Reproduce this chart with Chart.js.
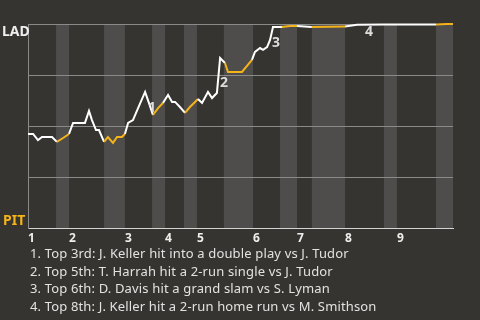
<!DOCTYPE html>
<html>
<head>
<meta charset="utf-8">
<script src="https://cdn.jsdelivr.net/npm/chart.js"></script>
<style>
  html, body { margin: 0; padding: 0; background: #353430; }
  #wrap { width: 480px; height: 320px; position: relative; overflow: hidden; background: #353430; }
  #grafico { display: block; }
  #note {
    position: absolute; left: 30px; top: 245px; margin: 0; padding: 0;
    list-style: none; font-family: 'Noto Sans', sans-serif; font-size: 13px;
    letter-spacing: 0.15px; line-height: 17.7px; color: #e2e2e2; white-space: nowrap;
  }
</style>
</head>
<body>
<div id="wrap">
  <canvas id="grafico" width="480" height="245"></canvas>
  <ul id="note"></ul>
</div>
<script>
// Dati: avanzamento partita (0-100) e probabilita' di vittoria LAD
const progresso = [0, 1.2, 2.35, 3.3, 5.65, 6.8, 8.25, 9.65, 10.6, 13.4, 14.35, 15.05, 16.0, 16.7,
  17.9, 18.8, 20.0, 20.95, 22.1, 22.8, 23.55, 24.7, 25.9, 27.55, 28.45, 29.4, 30.6, 31.75,
  32.95, 33.9, 34.6, 35.75, 36.95, 38.1, 39.3, 40.0, 40.95, 42.35, 43.3, 44.45, 45.2, 46.35,
  47.05, 50.35, 52.7, 53.4, 54.6, 55.3, 56.25, 56.95, 57.65, 59.75, 61.65, 63.3, 66.8, 74.6,
  77.4, 83.75, 96.0, 98.6, 100];
const probLAD = [0.461, 0.461, 0.431, 0.446, 0.446, 0.422, 0.441, 0.461, 0.515, 0.515, 0.574, 0.529, 0.480, 0.480,
  0.422, 0.446, 0.417, 0.446, 0.446, 0.461, 0.515, 0.529, 0.588, 0.667, 0.613, 0.554, 0.588, 0.613,
  0.652, 0.618, 0.618, 0.593, 0.564, 0.593, 0.618, 0.632, 0.613, 0.667, 0.637, 0.662, 0.833, 0.809,
  0.765, 0.765, 0.824, 0.863, 0.882, 0.873, 0.887, 0.922, 0.985, 0.985, 0.990, 0.990, 0.985, 0.988,
  0.996, 0.997, 0.997, 1.0, 1.0];

// Inizio di ogni mezzo inning (alto, basso, alto, ...) + fine partita
const mezziInning = [0, 6.6, 9.65, 17.9, 22.8, 29.2, 32.25, 36.7, 39.75, 46.1, 52.95, 59.3,
  63.3, 66.8, 74.6, 83.75, 86.8, 96.0, 100];
const etichetteInning = ['1', '2', '3', '4', '5', '6', '7', '8', '9'];

// Eventi chiave
const noteNumeri = ['1', '2', '3', '4'];
const noteX = [29.2, 46.1, 58.35, 80.25];
const noteY = [0.59, 0.711, 0.905, 0.961];
const noteTesti = [
  '1. Top 3rd: J. Keller hit into a double play vs J. Tudor',
  '2. Top 5th: T. Harrah hit a 2-run single vs J. Tudor',
  '3. Top 6th: D. Davis hit a grand slam vs S. Lyman',
  '4. Top 8th: J. Keller hit a 2-run home run vs M. Smithson'
];

const squadre = ['LAD', 'PIT'];

const BIANCO = '#ffffff';
const GIALLO = '#f5b31b';

// Lista note sotto il grafico
const lista = document.getElementById('note');
noteTesti.forEach(t => {
  const li = document.createElement('li');
  li.innerText = t;
  lista.appendChild(li);
});

function inizioInning() {
  return mezziInning.filter((v, i) => i % 2 === 0 && i < mezziInning.length - 1);
}

// Colore del segmento: bianco in alto inning, giallo in basso inning
function coloreSegmento(ctx) {
  const mid = (ctx.p0.parsed.x + ctx.p1.parsed.x) / 2;
  let k = 0;
  while (k < mezziInning.length - 2 && mid >= mezziInning[k + 1]) k++;
  return k % 2 === 0 ? BIANCO : GIALLO;
}

const sfondoPlugin = {
  id: 'sfondo',
  beforeDraw(chart) {
    const { ctx, chartArea, scales: { x } } = chart;
    ctx.save();
    ctx.fillStyle = '#353430';
    ctx.fillRect(0, 0, chart.width, chart.height);
    ctx.fillStyle = '#4e4d4b';
    for (let i = 1; i < mezziInning.length - 1; i += 2) {
      const x0 = x.getPixelForValue(mezziInning[i]);
      const x1 = x.getPixelForValue(mezziInning[i + 1]);
      ctx.fillRect(x0, chartArea.top, x1 - x0, chartArea.bottom - chartArea.top);
    }
    ctx.restore();
  },
  afterDatasetsDraw(chart) {
    const { ctx, scales: { x, y } } = chart;
    ctx.save();
    ctx.font = 'bold 14px "Noto Sans"';
    ctx.fillStyle = '#dcdcdc';
    ctx.textAlign = 'center';
    ctx.textBaseline = 'middle';
    noteNumeri.forEach((n, i) => {
      ctx.fillText(n, x.getPixelForValue(noteX[i]), y.getPixelForValue(noteY[i]));
    });
    ctx.restore();
  },
  afterDraw(chart) {
    const { ctx, chartArea } = chart;
    ctx.save();
    ctx.font = 'bold 14px "Noto Sans"';
    ctx.textAlign = 'left';
    ctx.fillStyle = '#eeeeee';
    ctx.textBaseline = 'top';
    ctx.fillText(squadre[0], 2, chartArea.top + 1);
    ctx.fillStyle = GIALLO;
    ctx.textBaseline = 'bottom';
    ctx.fillText(squadre[1], 3, chartArea.bottom);
    ctx.restore();
  }
};

const ctx = document.getElementById('grafico').getContext('2d');
new Chart(ctx, {
  type: 'line',
  data: {
    datasets: [{
      data: progresso.map((v, i) => ({ x: v, y: probLAD[i] })),
      borderWidth: 2,
      borderColor: BIANCO,
      pointRadius: 0,
      tension: 0,
      clip: false,
      segment: { borderColor: coloreSegmento }
    }]
  },
  options: {
    responsive: false,
    animation: false,
    layout: { padding: { left: 28, right: 27, top: 24, bottom: 0 } },
    plugins: { legend: { display: false }, tooltip: { enabled: false } },
    scales: {
      x: {
        type: 'linear',
        min: 0,
        max: 100,
        grid: { display: false, drawTicks: false },
        border: { color: '#d4d4d4', width: 1 },
        afterBuildTicks: scale => { scale.ticks = inizioInning().map(v => ({ value: v })); },
        afterFit: scale => { scale.height = 17; },
        ticks: {
          autoSkip: false,
          maxRotation: 0,
          align: 'start',
          padding: 3,
          color: '#eeeeee',
          font: { family: 'Noto Sans', size: 12, weight: 'bold' },
          callback: (v, i) => etichetteInning[i]
        }
      },
      y: {
        min: 0,
        max: 1,
        afterFit: scale => { scale.width = 0; },
        ticks: { display: false, stepSize: 0.25 },
        grid: {
          drawTicks: false,
          color: c => c.tick.value === 0 ? 'rgba(0,0,0,0)' : '#8a8a88'
        },
        border: { color: '#8a8a88' }
      }
    }
  },
  plugins: [sfondoPlugin]
});
</script>
</body>
</html>
